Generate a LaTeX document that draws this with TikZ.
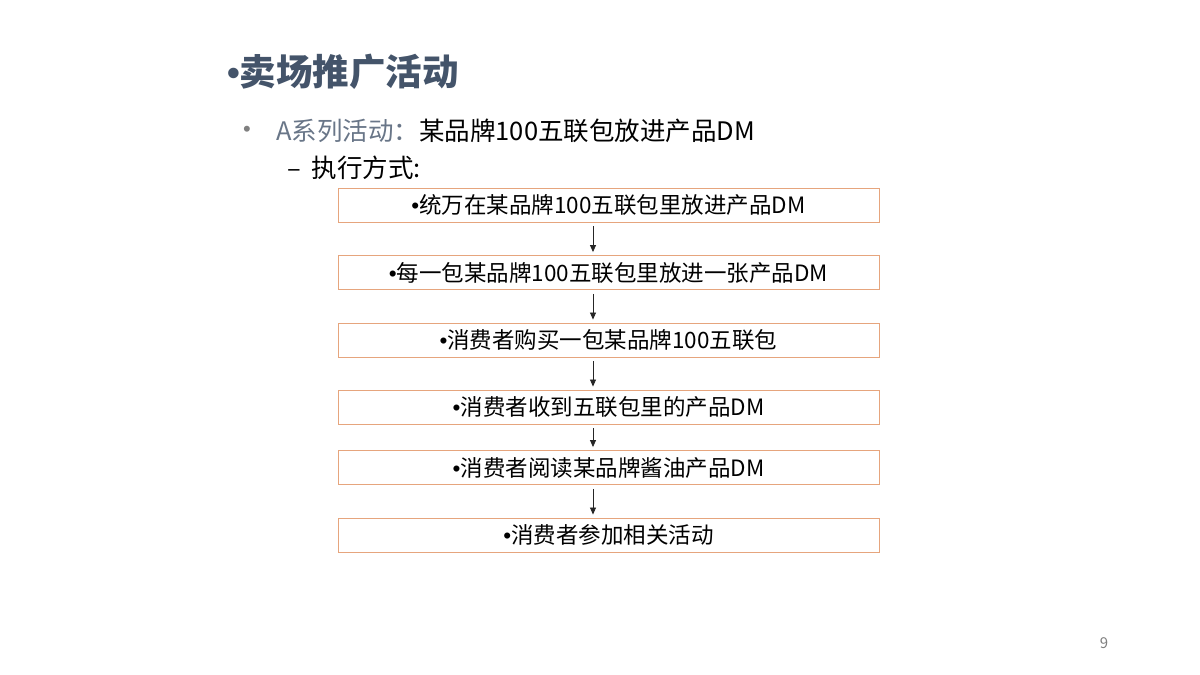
\documentclass[tikz,border=0pt]{standalone}
\usepackage{fontspec}
\setmainfont{Noto Sans CJK SC}
\newfontfamily\latf{Liberation Sans}
\newcommand\bul{{\latf •}}
\usetikzlibrary{arrows.meta}
\definecolor{titlec}{HTML}{44546A}
\definecolor{boxc}{RGB}{230,165,125}
\definecolor{graytxt}{RGB}{128,128,128}
\tikzset{
  stepbox/.style={draw=boxc, line width=0.9pt, minimum width=541pt, minimum height=34pt, inner sep=0pt, font=\fontsize{22.5}{26}\selectfont, text=black},
  flow/.style={-{Triangle[length=7pt,width=6pt]}, line width=0.8pt, draw=black!85, shorten >=3pt, shorten <=4pt},
}
\begin{document}
\begin{tikzpicture}[x=1pt,y=-1pt]
\useasboundingbox[fill=white] (0,0) rectangle (1200,675);
\node[anchor=west, text=titlec, font=\fontsize{36.5}{42}\selectfont\bfseries, inner sep=0pt] (title) at (227,72) {\bul 卖场推广活动};
\node[anchor=west, text=graytxt, font=\fontsize{22}{24}\selectfont, inner sep=0pt] (b1) at (243,131) {\bul};
\node[anchor=west, font=\fontsize{25.5}{30}\selectfont, inner sep=0pt] (l1) at (276,131) {\textcolor{titlec!80}{A系列活动：}某品牌100五联包放进产品DM};
\node[anchor=west, font=\fontsize{25.5}{30}\selectfont, inner sep=0pt] (l2) at (287,168) {–\hspace{11pt}执行方式:};
\node[stepbox] (s1) at (608.5,205) {\bul 统万在某品牌100五联包里放进产品DM};
\node[stepbox] (s2) at (608.5,272.5) {\bul 每一包某品牌100五联包里放进一张产品DM};
\node[stepbox] (s3) at (608.5,340) {\bul 消费者购买一包某品牌100五联包};
\node[stepbox] (s4) at (608.5,407) {\bul 消费者收到五联包里的产品DM};
\node[stepbox] (s5) at (608.5,467.5) {\bul 消费者阅读某品牌酱油产品DM};
\node[stepbox] (s6) at (608.5,535) {\bul 消费者参加相关活动};
\coordinate (ax) at (593,0);
\foreach \a/\b in {s1/s2,s2/s3,s3/s4,s4/s5,s5/s6}{
  \draw[flow] (\a.south -| ax) -- (\b.north -| ax);
}
\node[text=graytxt, font=\fontsize{15}{17}\selectfont, inner sep=0pt] (pg) at (1104,643) {9};
\end{tikzpicture}
\end{document}
